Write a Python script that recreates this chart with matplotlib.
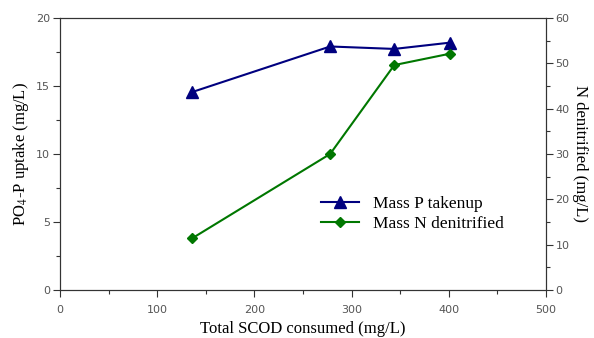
import matplotlib
matplotlib.use('Agg')
import matplotlib.pyplot as plt
from matplotlib.ticker import MultipleLocator

plt.rcParams['mathtext.fontset'] = 'stix'

# 数据
scod = [136, 278, 344, 401]
p_uptake = [14.55, 17.9, 17.72, 18.18]
n_denit = [11.4, 30.0, 49.6, 52.1]

tick_font = {'family': 'DejaVu Sans', 'size': 8, 'color': '#555555'}
label_font = {'family': 'Liberation Serif', 'size': 12}


def main():
    fig = plt.figure(figsize=(5.94, 3.38), dpi=100)
    ax = fig.add_axes([0.101, 0.142, 0.818, 0.805])
    ax2 = ax.twinx()

    l1, = ax.plot(scod, p_uptake, color='#00007f', marker='^', markersize=8, linewidth=1.5,
                  label='Mass P takenup')
    l2, = ax2.plot(scod, n_denit, color='#007700', marker='D', markersize=5.5, linewidth=1.5,
                   label='Mass N denitrified')

    ax.set_xlim(0, 500)
    ax.set_ylim(0, 20)
    ax2.set_ylim(0, 60)
    ax.xaxis.set_major_locator(MultipleLocator(100))
    ax.xaxis.set_minor_locator(MultipleLocator(50))
    ax.yaxis.set_major_locator(MultipleLocator(5))
    ax.yaxis.set_minor_locator(MultipleLocator(2.5))
    ax2.yaxis.set_major_locator(MultipleLocator(10))
    ax2.yaxis.set_minor_locator(MultipleLocator(5))

    for a in (ax, ax2):
        a.tick_params(which='major', direction='out', length=5, width=0.8, color='#333333', pad=2)
        a.tick_params(which='minor', direction='out', length=3, width=0.8, color='#333333')
        for lab in a.get_xticklabels() + a.get_yticklabels():
            lab.set_fontfamily(tick_font['family'])
            lab.set_fontsize(tick_font['size'])
            lab.set_color(tick_font['color'])
        for s in a.spines.values():
            s.set_color('#333333')
            s.set_linewidth(0.8)
    ax.tick_params(axis='x', which='major', pad=6)

    ax.set_xlabel('Total SCOD consumed (mg/L)', fontdict=label_font, labelpad=4)
    ax.set_ylabel('PO$_4$-P uptake (mg/L)', fontdict=label_font, labelpad=4)
    ax2.set_ylabel('N denitrified (mg/L)', fontdict=label_font, rotation=270, labelpad=13)

    ax.legend([l1, l2], ['Mass P takenup', 'Mass N denitrified'], frameon=False,
              prop={'family': 'Liberation Serif', 'size': 12.5}, loc='center left',
              bbox_to_anchor=(0.505, 0.28), handlelength=2.2, labelspacing=0.25,
              handletextpad=0.8, numpoints=1)

    fig.savefig('out.png', dpi=100)


if __name__ == '__main__':
    main()
